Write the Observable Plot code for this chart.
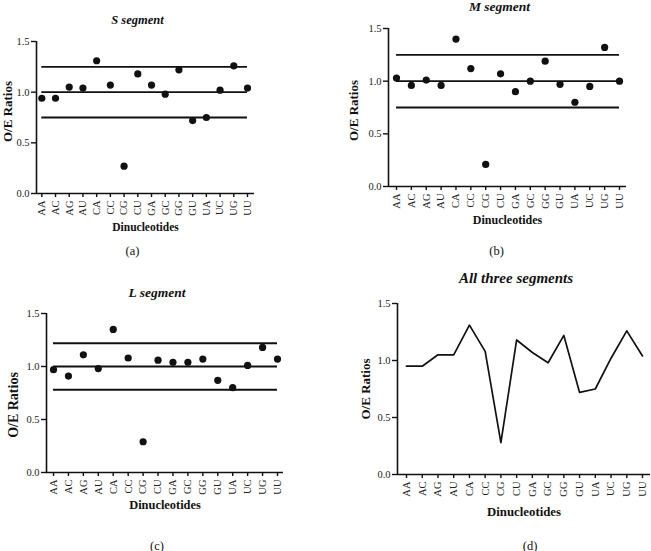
<!DOCTYPE html>
<html><head><meta charset="utf-8">
<script src="https://cdn.jsdelivr.net/npm/d3@7"></script>
<script src="https://cdn.jsdelivr.net/npm/@observablehq/plot@0.6"></script>
<style>
html,body{margin:0;padding:0;background:#fff;}
#root{position:relative;width:651px;height:551px;overflow:hidden;background:#fff;}
.panel{position:absolute;}
</style></head><body><div id="root"></div>
<script>
// ---- data ----
const categories = ["AA","AC","AG","AU","CA","CC","CG","CU","GA","GC","GG","GU","UA","UC","UG","UU"];
const sValues = [0.94,0.94,1.05,1.04,1.31,1.07,0.27,1.18,1.07,0.98,1.22,0.72,0.75,1.02,1.26,1.04];
const mValues = [1.03,0.96,1.01,0.96,1.40,1.12,0.21,1.07,0.90,1.00,1.19,0.97,0.80,0.95,1.32,1.00];
const lValues = [0.97,0.91,1.11,0.98,1.35,1.08,0.29,1.06,1.04,1.04,1.07,0.87,0.80,1.01,1.18,1.07];
const allValues = [0.95,0.95,1.05,1.05,1.31,1.08,0.28,1.18,1.07,0.98,1.22,0.72,0.75,1.02,1.26,1.04];
const yTicks = [0, 0.5, 1.0, 1.5];
const sRefs = [0.75, 1.0, 1.25];
const mRefs = [0.75, 1.0, 1.25];
const lRefs = [0.78, 1.0, 1.22];
const titles = ["S segment", "M segment", "L segment", "All three segments"];
const captions = ["(a)", "(b)", "(c)", "(d)"];
const xLabel = "Dinucleotides";
const yLabel = "O/E Ratios";

const FONT = "'Liberation Serif', 'Times New Roman', Times, serif";
const INK = "#111";

function panel(values, refs, asLine, title, caption, L) {
  const n = categories.length;
  const step = (L.x1 - L.x0) / (n - 1);
  const xmin = -(L.x0 - L.ml) / step;
  const xmax = (n - 1) + ((L.w - L.mr) - L.x1) / step;
  const idx = d3.range(n);
  const marks = [
    Plot.ruleY([0], {stroke: INK, strokeWidth: 1.6}),
    Plot.ruleX([xmin], {y1: 0, y2: 1.5, stroke: INK, strokeWidth: 1.6}),
    Plot.axisY({ticks: yTicks, tickFormat: d3.format(".1f"), tickSize: 5, tickPadding: 2, fontSize: 10.5, fontFamily: FONT, label: null, stroke: INK, fill: "#222", strokeWidth: 1.4}),
    Plot.axisX({ticks: idx, tickFormat: i => categories[i], tickRotate: -90, tickSize: 4, tickPadding: 3, fontSize: 10.5, fontFamily: FONT, label: null, stroke: INK, fill: "#222", strokeWidth: 1.4})
  ];
  if (refs) {
    marks.push(Plot.ruleY(refs, {x1: () => 0, x2: () => n - 1, stroke: INK, strokeWidth: 1.9}));
  }
  const data = categories.map((c, i) => ({i, cat: c, v: values[i]}));
  if (asLine) {
    marks.push(Plot.lineY(data, {x: "i", y: "v", stroke: INK, strokeWidth: 1.7, curve: "linear"}));
  } else {
    marks.push(Plot.dot(data, {x: "i", y: "v", r: 3.6, fill: INK, stroke: "none"}));
  }
  marks.push(
    Plot.text([title], {text: d => d, frameAnchor: "top", dx: L.tdx, dy: L.tdy, lineAnchor: "middle", textAnchor: "middle", fontFamily: FONT, fontStyle: "italic", fontWeight: "bold", fontSize: L.tfs, fill: INK}),
    Plot.text([xLabel], {text: d => d, frameAnchor: "bottom", dy: L.xdy, lineAnchor: "middle", textAnchor: "middle", fontFamily: FONT, fontWeight: "bold", fontSize: L.xfs, fill: INK}),
    Plot.text([yLabel], {text: d => d, frameAnchor: "left", dx: L.ydx, dy: L.ydy, rotate: -90, lineAnchor: "middle", textAnchor: "middle", fontFamily: FONT, fontWeight: "bold", fontSize: L.yfs, fill: INK}),
    Plot.text([caption], {text: d => d, frameAnchor: "bottom", dx: L.cdx, dy: L.cdy, lineAnchor: "middle", textAnchor: "middle", fontFamily: FONT, fontSize: 12.5, fill: INK})
  );
  const svg = Plot.plot({
    width: L.w, height: L.h,
    marginLeft: L.ml, marginRight: L.mr, marginTop: L.mt, marginBottom: L.mb,
    style: {fontFamily: FONT, background: "transparent", overflow: "visible", color: INK},
    x: {type: "linear", domain: [xmin, xmax]},
    y: {domain: [0, 1.5]},
    marks
  });
  const wrap = document.createElement("div");
  wrap.className = "panel";
  wrap.style.left = L.left + "px";
  wrap.style.top = L.top + "px";
  wrap.appendChild(svg);
  document.getElementById("root").appendChild(wrap);
}

panel(sValues, sRefs, false, titles[0], captions[0],
  {left: 0, top: 0, w: 320, h: 265, ml: 36, mr: 66, mt: 41, mb: 72, x0: 41.3, x1: 247,
   tdx: -8, tdy: -22, tfs: 12.5, xdy: 34, xfs: 11.5, ydx: -29, ydy: -6, yfs: 13, cdx: -13, cdy: 57});
panel(mValues, mRefs, false, titles[1], captions[1],
  {left: 320, top: 0, w: 331, h: 265, ml: 68, mr: 25, mt: 28, mb: 79, x0: 76, x1: 299,
   tdx: -8, tdy: -22, tfs: 13.5, xdy: 34, xfs: 12, ydx: -35, ydy: 3, yfs: 13, cdx: -11, cdy: 64});
panel(lValues, lRefs, false, titles[2], captions[2],
  {left: 0, top: 270, w: 320, h: 281, ml: 46, mr: 37, mt: 43, mb: 79, x0: 53, x1: 277,
   tdx: -8, tdy: -21, tfs: 13.5, xdy: 33, xfs: 12.4, ydx: -33, ydy: 12, yfs: 14, cdx: -8, cdy: 73});
panel(allValues, null, true, titles[3], captions[3],
  {left: 320, top: 270, w: 331, h: 281, ml: 77, mr: 1, mt: 33, mb: 77, x0: 86, x1: 322,
   tdx: -8, tdy: -25, tfs: 15, xdy: 37, xfs: 12.8, ydx: -32, ydy: 0, yfs: 13, cdx: 6, cdy: 71});
</script></body></html>
